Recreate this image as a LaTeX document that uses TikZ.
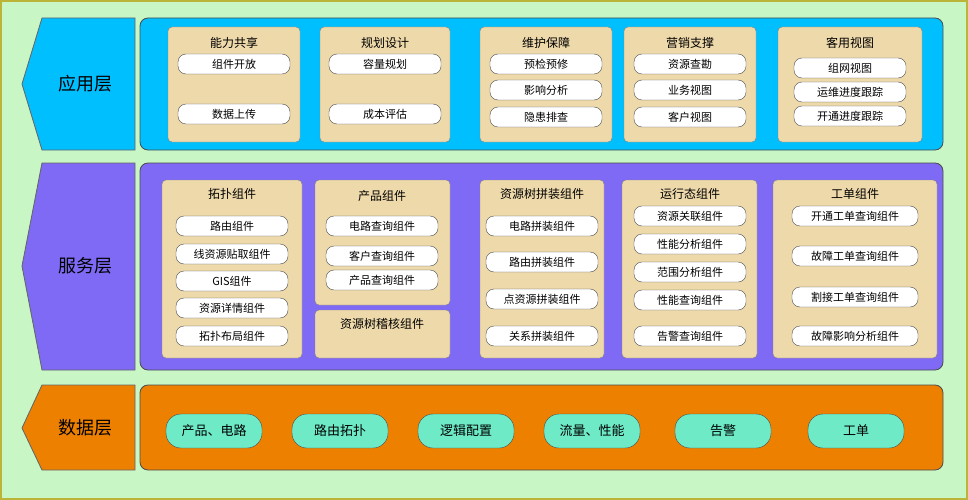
\documentclass[tikz,border=0pt]{standalone}
\usepackage{fontspec}
\setmainfont{Noto Sans CJK SC}
\usetikzlibrary{positioning}
\definecolor{bgGreen}{HTML}{C8F7C5}
\definecolor{appBlue}{HTML}{00BFFF}
\definecolor{srvPurple}{HTML}{7F6AF5}
\definecolor{datOrange}{HTML}{EE8000}
\definecolor{tanBox}{HTML}{EED9AA}
\definecolor{mint}{HTML}{6EEBC6}
\tikzset{
  layertag/.style={draw=black!60, line width=.3mm},
  panel/.style={draw=black!70, line width=.3mm, rounded corners=8pt},
  groupbox/.style={draw=black!50, fill=tanBox, rounded corners=4pt},
  pill/.style={draw=black!70, fill=white, rounded corners=8pt, minimum width=112pt, minimum height=20pt, inner sep=0pt, font=\fontsize{11}{13}\selectfont},
  datapill/.style={draw=black!70, fill=mint, rounded corners=15pt, minimum width=96pt, minimum height=34pt, inner sep=0pt, font=\fontsize{13}{15}\selectfont},
  grouptitle/.style={font=\fontsize{12}{14}\selectfont},
}
\begin{document}
\begin{tikzpicture}[x=1pt,y=-1pt]
\useasboundingbox (0,0) rectangle (968,500);
\draw[fill=bgGreen, draw=yellow!70!black, line width=.4mm] (1,1) rectangle (967,499);
% layer tags
\draw[layertag, fill=appBlue] (22,84) -- (42,18) -- (135,18) -- (135,150) -- (42,150) -- cycle;
\draw[layertag, fill=srvPurple] (22,266) -- (42,163) -- (135,163) -- (135,370) -- (42,370) -- cycle;
\draw[layertag, fill=datOrange] (22,428) -- (42,385) -- (135,385) -- (135,470) -- (42,470) -- cycle;
\node[font=\fontsize{18}{21}\selectfont] (tagApp) at (85,84) {应用层};
\node[font=\fontsize{18}{21}\selectfont] (tagSrv) at (85,266) {服务层};
\node[font=\fontsize{18}{21}\selectfont] (tagDat) at (85,428) {数据层};
% panels
\draw[panel, fill=appBlue] (140,18) rectangle (943,150);
\draw[panel, fill=srvPurple] (140,163) rectangle (943,370);
\draw[panel, fill=datOrange] (140,385) rectangle (943,470);
% application layer
\draw[groupbox] (168,27) rectangle (300,142);
\draw[groupbox] (320,27) rectangle (450,142);
\draw[groupbox] (480,27) rectangle (612,142);
\draw[groupbox] (624,27) rectangle (756,142);
\draw[groupbox] (778,27) rectangle (922,142);
\node[grouptitle] (abilityT) at (234,43) {能力共享};
\node[grouptitle] (planT) at (385,43) {规划设计};
\node[grouptitle] (maintT) at (546,43) {维护保障};
\node[grouptitle] (marketT) at (690,43) {营销支撑};
\node[grouptitle] (custT) at (850,43) {客用视图};
\node[pill] (compOpen) at (234,64) {组件开放};
\node[pill] (dataUp) at (234,114) {数据上传};
\node[pill] (capPlan) at (385,64) {容量规划};
\node[pill] (costEval) at (385,114) {成本评估};
\node[pill] (preCheck) at (546,64) {预检预修};
\node[pill] (impact) at (546,90) {影响分析};
\node[pill] (hazard) at (546,117) {隐患排查};
\node[pill] (resSurvey) at (690,64) {资源查勘};
\node[pill] (bizView) at (690,90) {业务视图};
\node[pill] (custView) at (690,117) {客户视图};
\node[pill] (netView) at (850,68) {组网视图};
\node[pill] (opsTrack) at (850,92) {运维进度跟踪};
\node[pill] (openTrack) at (850,116) {开通进度跟踪};
% service layer
\draw[groupbox] (162,180) rectangle (302,358);
\draw[groupbox] (315,180) rectangle (450,305);
\draw[groupbox] (315,310) rectangle (450,358);
\draw[groupbox] (480,180) rectangle (604,358);
\draw[groupbox] (622,180) rectangle (757,358);
\draw[groupbox] (773,180) rectangle (937,358);
\node[grouptitle] (topoT) at (232,194) {拓扑组件};
\node[grouptitle] (prodT) at (382,196) {产品组件};
\node[grouptitle] (auditT) at (382,324) {资源树稽核组件};
\node[grouptitle] (asmT) at (542,194) {资源树拼装组件};
\node[grouptitle] (runT) at (690,194) {运行态组件};
\node[grouptitle] (orderT) at (855,194) {工单组件};
\foreach \y/\t [count=\i] in {226/路由组件, 254/线资源贴取组件, 281/GIS组件, 308/资源详情组件, 336/拓扑布局组件}
  \node[pill] (topo\i) at (232,\y) {\t};
\foreach \y/\t [count=\i] in {226/电路查询组件, 256/客户查询组件, 280/产品查询组件}
  \node[pill] (prod\i) at (382,\y) {\t};
\foreach \y/\t [count=\i] in {226/电路拼装组件, 262/路由拼装组件, 299/点资源拼装组件, 336/关系拼装组件}
  \node[pill] (asm\i) at (542,\y) {\t};
\foreach \y/\t [count=\i] in {216/资源关联组件, 244/性能分析组件, 272/范围分析组件, 300/性能查询组件, 336/告警查询组件}
  \node[pill] (run\i) at (690,\y) {\t};
\foreach \y/\t [count=\i] in {216/开通工单查询组件, 256/故障工单查询组件, 297/割接工单查询组件, 336/故障影响分析组件}
  \node[pill, minimum width=126pt] (order\i) at (855,\y) {\t};
% data layer
\foreach \x/\t [count=\i] in {214/产品、电路, 340/路由拓扑, 466/逻辑配置, 592/流量、性能, 723/告警, 856/工单}
  \node[datapill] (data\i) at (\x,431) {\t};
\end{tikzpicture}
\end{document}
